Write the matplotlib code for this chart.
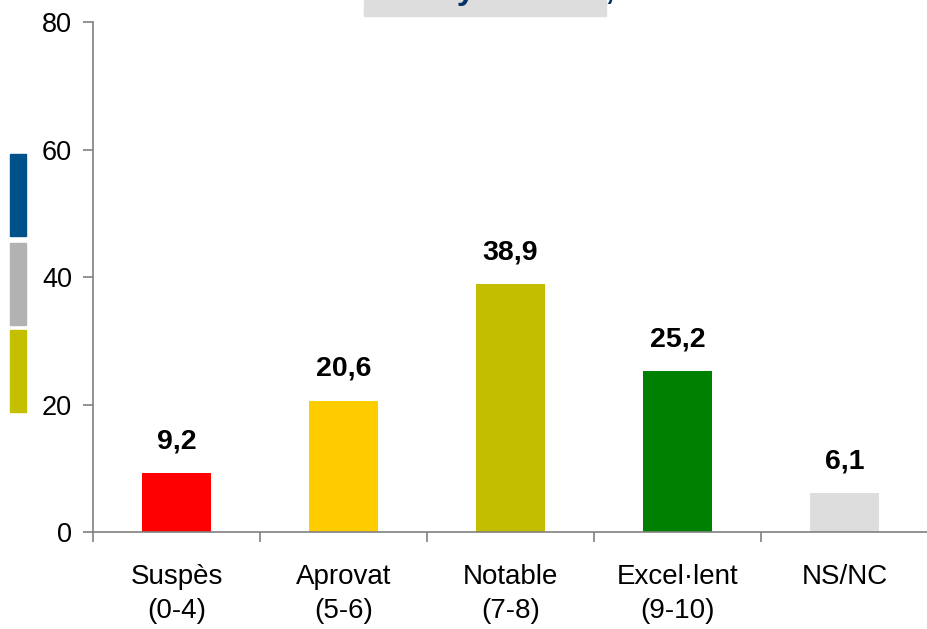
import matplotlib
matplotlib.use("Agg")
import matplotlib.pyplot as plt
import numpy as np
from matplotlib.patches import Rectangle

plt.rcParams['font.family'] = ['Liberation Sans', 'DejaVu Sans']

categories = ["Suspès\n(0-4)", "Aprovat\n(5-6)", "Notable\n(7-8)", "Excel·lent\n(9-10)", "NS/NC"]
values = [9.2, 20.6, 38.9, 25.2, 6.1]
value_labels = ["9,2", "20,6", "38,9", "25,2", "6,1"]
bar_colors = ["#FF0000", "#FFCC00", "#C4BE00", "#008000", "#DDDDDD"]
yticks = [0, 20, 40, 60, 80]

fig = plt.figure(figsize=(9.28, 6.29), dpi=100)
ax = fig.add_axes([0.1002, 0.1542, 0.8998, 0.8108])

x = np.arange(len(values))
ax.bar(x, values, width=0.41, color=bar_colors)

for xi, v, lab in zip(x, values, value_labels):
    ax.annotate(lab, (xi, v), xytext=(0, 23), textcoords="offset points",
                ha="center", va="center", fontsize=20.5, fontweight="bold")

ax.set_xlim(-0.5, len(values) - 0.5)
ax.set_ylim(0, 80)
ax.set_yticks(yticks)
ax.set_yticklabels([str(t) for t in yticks], fontsize=19.5)

# ticks at the category boundaries, labels at the centres
ax.set_xticks(np.arange(-0.5, len(values)))
ax.set_xticklabels([])
ax.set_xticks(x, minor=True)
ax.set_xticklabels(categories, minor=True, fontsize=20, linespacing=1.42)
ax.tick_params(axis="x", which="minor", length=0, pad=23)
ax.tick_params(axis="both", which="major", length=7, color="#808080", width=1.2)
ax.tick_params(axis="y", pad=8)

for s in ["top", "right"]:
    ax.spines[s].set_visible(False)
for s in ["left", "bottom"]:
    ax.spines[s].set_color("#808080")
    ax.spines[s].set_linewidth(1.2)

# grey title box, cut by the top edge (only the descenders show)
fig.patches.append(Rectangle((364 / 928, 1 - 16 / 629), 242 / 928, 16 / 629,
                             transform=fig.transFigure, color="#DDDDDD", zorder=0))
fig.text(492 / 928, 1 + 1 / 629, "Total any 2010-11, %", ha="center", va="baseline",
         fontsize=24, fontweight="bold", color="#003366")

# decorative colour strips on the left
strips = [("#00508A", 154, 236), ("#B2B2B2", 243, 325), ("#C4C000", 330, 412)]
for col, y0, y1 in strips:
    fig.patches.append(Rectangle((10 / 928, 1 - y1 / 629), 16 / 928, (y1 - y0) / 629,
                                 transform=fig.transFigure, color=col))

fig.savefig("out.png", dpi=100)
